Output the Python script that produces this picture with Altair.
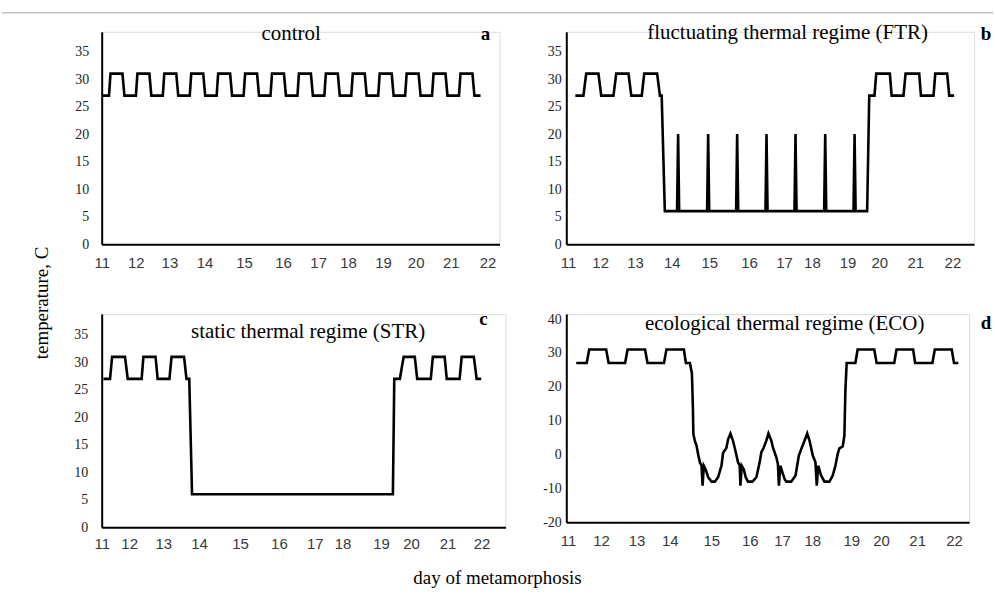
import altair as alt
import pandas as pd

SERIF = "Liberation Serif"
SANS = "Liberation Sans"

# ---------- a: control ----------
a_day = [11.03,
         11.208, 11.251, 11.592, 11.648,
         11.975, 12.018, 12.359, 12.415,
         12.742, 12.785, 13.126, 13.182,
         13.510, 13.553, 13.894, 13.950,
         14.277, 14.320, 14.661, 14.717,
         15.045, 15.088, 15.429, 15.485,
         15.812, 15.855, 16.196, 16.252,
         16.580, 16.623, 16.964, 17.020,
         17.347, 17.390, 17.731, 17.787,
         18.115, 18.158, 18.499, 18.555,
         18.882, 18.925, 19.266, 19.322,
         19.650, 19.693, 20.034, 20.090,
         20.417, 20.460, 20.801, 20.857,
         21.185, 21.228, 21.569, 21.625,
         21.80]
a_temp = [27,
          27, 31, 31, 27,
          27, 31, 31, 27,
          27, 31, 31, 27,
          27, 31, 31, 27,
          27, 31, 31, 27,
          27, 31, 31, 27,
          27, 31, 31, 27,
          27, 31, 31, 27,
          27, 31, 31, 27,
          27, 31, 31, 27,
          27, 31, 31, 27,
          27, 31, 31, 27,
          27, 31, 31, 27,
          27, 31, 31, 27,
          27]
a_labels = [11.0, 11.97, 12.93, 13.93, 15.06, 16.17, 17.17, 18.02, 19.02, 19.95, 20.95, 22.0]

# ---------- b: fluctuating thermal regime ----------
b_day = [11.26, 11.49, 11.57, 11.92, 12.00, 12.35, 12.43, 12.78,
         12.86, 13.16, 13.23, 13.60, 13.68, 13.73, 13.82,
         14.17, 14.20, 14.23,
         15.03, 15.06, 15.09,
         15.86, 15.89, 15.92,
         16.70, 16.73, 16.76,
         17.53, 17.56, 17.59,
         18.38, 18.41, 18.44,
         19.22, 19.25, 19.28,
         19.61, 19.67, 19.82, 19.87, 20.26, 20.31, 20.65, 20.71,
         21.10, 21.15, 21.51, 21.56, 21.90, 21.96, 22.10]
b_temp = [27, 27, 31, 31, 27, 27, 31, 31,
          27, 27, 31, 31, 27, 27, 6,
          6, 20, 6,
          6, 20, 6,
          6, 20, 6,
          6, 20, 6,
          6, 20, 6,
          6, 20, 6,
          6, 20, 6,
          6, 27, 27, 31, 31, 27, 27, 31,
          31, 27, 27, 31, 31, 27, 27]
b_labels = [11.05, 11.97, 12.97, 14.02, 15.09, 16.23, 17.23, 18.03, 19.05, 19.96, 20.99, 22.05]

# ---------- c: static thermal regime ----------
c_day = [11.05, 11.24, 11.30, 11.67, 11.75, 12.15, 12.20, 12.55,
         12.61, 12.95, 13.01, 13.37, 13.44, 13.52, 13.60,
         19.38, 19.42, 19.58, 19.69, 20.01, 20.08, 20.47, 20.53,
         20.87, 20.93, 21.30, 21.36, 21.71, 21.79, 21.92]
c_temp = [27, 27, 31, 31, 27, 27, 31, 31,
          27, 27, 31, 31, 27, 27, 6,
          6, 27, 27, 31, 31, 27, 27, 31,
          31, 27, 27, 31, 31, 27, 27]
c_labels = [11.0, 11.79, 12.77, 13.80, 14.98, 16.10, 17.13, 17.93, 19.04, 19.90, 20.95, 21.93]

# ---------- d: ecological thermal regime ----------
d_day = [11.284, 11.582, 11.653, 12.136, 12.207, 12.676, 12.747, 13.244,
         13.315, 13.784, 13.855, 14.352, 14.409, 14.523, 14.580, 14.608,
         14.622, 14.665, 14.713, 14.759, 14.807, 14.855, 14.884, 14.920,
         14.969, 15.043, 15.139, 15.233, 15.327, 15.423, 15.469, 15.565,
         15.611, 15.679, 15.753, 15.830, 15.895, 15.943, 15.963, 16.000,
         16.057, 16.114, 16.179, 16.304, 16.418, 16.511, 16.560, 16.625,
         16.702, 16.761, 16.844, 16.889, 16.986, 17.031, 17.060, 17.099,
         17.173, 17.222, 17.270, 17.412, 17.534, 17.628, 17.696, 17.790,
         17.866, 17.932, 18.026, 18.102, 18.139, 18.179, 18.264, 18.358,
         18.500, 18.594, 18.670, 18.736, 18.784, 18.878, 18.926, 18.955,
         18.991, 19.239, 19.304, 19.778, 19.844, 20.347, 20.412, 20.886,
         20.943, 21.435, 21.503, 21.986, 22.051, 22.173]
d_temp = [27, 27, 31, 31, 27, 27, 31, 31,
          27, 27, 31, 31, 27, 27, 24, 14,
          6, 4, 2.6, 0, -2.3, -3.3, -9.2, -3.3,
          -4.3, -6.7, -8, -8, -6.7, -3.3, 0.5, 2,
          4.5, 6.2, 4, 0.7, -2.3, -3.3, -9.2, -3.3,
          -4.3, -6.7, -8, -8, -6.7, -2.3, 0.7, 2,
          4.1, 6.2, 4.1, 2.1, -0.8, -2.8, -9.2, -3.3,
          -5.7, -7.2, -8, -8, -6.2, -0.3, 1.6, 4.1,
          6.2, 4.1, -0.3, -2.3, -9.2, -3.3, -6.2, -8,
          -8, -6.2, -3.3, 0.2, 1.8, 2.4, 5.6, 19,
          27, 27, 31, 31, 27, 27, 31, 31,
          27, 27, 31, 31, 27, 27]
d_labels = [11.05, 11.99, 13.0, 13.95, 15.13, 16.23, 17.15, 18.01, 19.12, 19.97, 21.0, 22.05]

y_ticks_std = [0, 5, 10, 15, 20, 25, 30, 35]
y_ticks_eco = [-20, -10, 0, 10, 20, 30, 40]

Y_TITLE = "temperature, C"
X_TITLE = "day of metamorphosis"

# plain hyphen for negative tick labels
Y_LABEL = "datum.value < 0 ? '-' + abs(datum.value) : '' + datum.value"


def note(text, px, py, size, weight="normal", angle=0):
    """A piece of text placed in pixels relative to a panel's plot area."""
    return alt.Chart(pd.DataFrame({"t": [text]})).mark_text(
        font=SERIF, fontSize=size, fontWeight=weight, color="black",
        align="center", baseline="middle", angle=angle,
    ).encode(text="t:N", x=alt.value(px), y=alt.value(py))


def panel(day, temp, x_domain, y_domain, y_ticks, x_labels, w, h,
          name, name_x, name_y, letter, letter_x, letter_y, y_pad, x_pad,
          extra=()):
    df = pd.DataFrame({"day": day, "temp": temp, "step": list(range(len(day)))})
    x = alt.X(
        "day:Q",
        scale=alt.Scale(domain=x_domain, nice=False, zero=False),
        axis=alt.Axis(
            values=x_labels, labelExpr="format(round(datum.value), 'd')",
            title=None, grid=False, ticks=False, domainColor="black",
            domainWidth=2, labelFont=SANS, labelFontSize=15,
            labelColor="#3a3a3a", labelPadding=x_pad, labelFlush=False,
            labelOverlap=False,
        ),
    )
    y = alt.Y(
        "temp:Q",
        scale=alt.Scale(domain=y_domain, nice=False, zero=False),
        axis=alt.Axis(
            values=y_ticks, labelExpr=Y_LABEL, title=None, grid=False,
            ticks=False, domainColor="black", domainWidth=2, labelFont=SERIF,
            labelFontSize=14, labelColor="#222222", labelPadding=y_pad,
            labelOverlap=False,
        ),
    )
    line = alt.Chart(df).mark_line(color="black", strokeWidth=2.6).encode(
        x=x, y=y, order="step:Q"
    )
    layers = [line, note(name, name_x, name_y, 21),
              note(letter, letter_x, letter_y, 19, weight="bold")]
    layers += list(extra)
    return alt.layer(*layers).properties(width=w, height=h)


# page furniture carried by the top-left and bottom-left panels
top_rule = alt.Chart(pd.DataFrame({"k": [0]})).mark_rule(
    color="#c4c4c4", strokeWidth=1.5
).encode(x=alt.value(-100), x2=alt.value(894), y=alt.value(-19))
y_title = note(Y_TITLE, -60, 272, 19, angle=270)
x_title = note(X_TITLE, 397, 265, 19)

pa = panel(a_day, a_temp, [11, 22.34], [0, 38.6], y_ticks_std, a_labels, 399, 213,
           "control", 190, 2, "a", 385, 2, 13, 11, extra=(top_rule, y_title))
pb = panel(b_day, b_temp, [11, 22.67], [0, 38.6], y_ticks_std, b_labels, 409, 213,
           "fluctuating thermal regime (FTR)", 222, 1, "b", 421, 2, 5, 11)
pc = panel(c_day, c_temp, [11, 22.62], [0, 38.8], y_ticks_std, c_labels, 405, 214,
           "static thermal regime (STR)", 207, 18, "c", 383, 5, 14, 9,
           extra=(x_title,))
pd_ = panel(d_day, d_temp, [11, 22.48], [-20, 41.5], y_ticks_eco, d_labels, 404, 209,
            "ecological thermal regime (ECO)", 219, 10, "d", 421, 9, 5, 11)

chart = alt.concat(
    pa, pb, pc, pd_, columns=2, bounds="flush",
    spacing={"row": 70, "column": 61},
).properties(
    padding={"left": 0, "top": 10, "right": 0, "bottom": 0},
).configure_view(stroke=None).configure(background="white")

chart.save("out.html", embed_options={"renderer": "svg", "actions": False})
